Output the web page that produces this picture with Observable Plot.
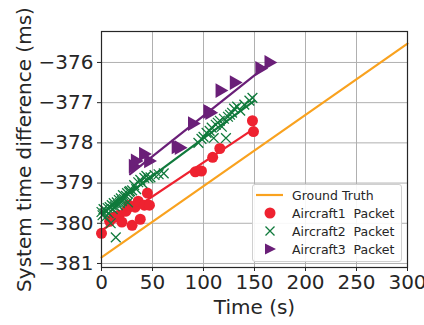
<!DOCTYPE html>
<html>
<head>
<meta charset="utf-8">
<script src="https://cdn.jsdelivr.net/npm/d3@7"></script>
<script src="https://cdn.jsdelivr.net/npm/@observablehq/plot@0.6"></script>
<style>
  body { margin: 0; background: #fff; font-family: "DejaVu Sans", sans-serif; }
  #wrap { position: relative; width: 424px; height: 325px; }
  #legend { position: absolute; left: 252px; top: 184px; width: 150px; height: 78px;
    background: rgba(255,255,255,0.9); border: 1px solid #d0d0d0; border-radius: 3px; box-sizing: border-box;
    font-size: 12.5px; color: #262626; }
  .row { position: absolute; left: 0; height: 18px; display: flex; align-items: center; white-space: pre; }
  .row svg { margin-left: 3px; margin-right: 9px; }
</style>
</head>
<body>
<div id="wrap"></div>
<script>
// Ground truth line endpoints
const gtT = [0, 300];
const gtV = [-380.85, -375.53];

// Fitted line endpoints per aircraft
const fit1T = [0, 150];   const fit1V = [-380.18, -377.64];
const fit2T = [0, 150];   const fit2V = [-379.76, -376.95];
const fit3T = [28, 166];  const fit3V = [-378.78, -376.0];

// Aircraft1 packets
const a1T = [0, 8, 12, 17, 20, 24, 27, 30, 33, 36, 38, 42, 45, 47, 92, 98, 109, 116, 148, 149];
const a1V = [-380.25, -379.95, -379.85, -379.8, -379.97, -379.7, -379.55, -380.05, -379.6, -379.45, -379.9, -379.55, -379.25, -379.55, -378.72, -378.7, -378.36, -378.14, -377.45, -377.72];

// Aircraft2 packets
const a2T = [0, 1, 2, 3, 4, 5, 6, 7, 8, 9, 10, 11, 12, 13, 14, 15, 16, 17, 18, 19, 20, 21, 22, 24, 25, 26, 27, 28, 30, 32, 34, 36, 38, 40, 42, 44, 46, 48, 52, 56, 61,
  95, 98, 100, 103, 106, 108, 110, 112, 114, 116, 118, 120, 122, 124, 126, 128, 130, 133, 136, 140, 145, 148];
const a2V = [-379.72, -379.8, -379.65, -379.75, -379.85, -379.7, -379.62, -379.75, -379.6, -380.0, -379.55, -379.65, -379.5, -379.58, -380.35, -379.48, -379.55, -379.42, -379.5, -379.38, -379.45, -379.3, -379.4, -379.32, -379.25, -379.48, -379.22, -379.2, -379.18, -379.05, -379.15, -378.98, -378.92, -379.0, -378.87, -378.82, -378.88, -378.86, -378.8, -378.78, -378.76,
  -378.0, -377.9, -377.85, -377.75, -377.7, -377.62, -377.88, -377.55, -377.5, -377.45, -377.6, -377.4, -377.88, -377.35, -377.3, -377.25, -377.15, -377.1, -377.2, -377.05, -376.95, -376.88];

// Aircraft3 packets
const a3T = [31, 33, 41, 46, 73, 76, 89, 104, 106, 116, 130, 155, 164];
const a3V = [-378.58, -378.45, -378.28, -378.45, -378.1, -378.12, -377.52, -377.22, -377.25, -376.7, -376.5, -376.15, -376.0];

const xTicks = [0, 50, 100, 150, 200, 250, 300];
const yTicks = [-381, -380, -379, -378, -377, -376];
const xLabel = "Time (s)";
const yLabel = "System time difference (ms)";

const cGT = "#f9a21f", c1 = "#ee2230", c2 = "#107a3c", c3 = "#6a1f78";

const zip = (T, V) => T.map((t, i) => ({t, v: V[i]}));

const chart = Plot.plot({
  width: 424, height: 325,
  marginLeft: 101, marginRight: 17, marginTop: 31, marginBottom: 58,
  style: {fontFamily: "DejaVu Sans, sans-serif", fontSize: "20px", color: "#262626", background: "white"},
  x: {domain: [0, 300]},
  y: {domain: [-381.1, -375.23]},
  marks: [
    Plot.gridX(xTicks, {stroke: "#b0b0b0", strokeOpacity: 1, strokeWidth: 1}),
    Plot.gridY(yTicks, {stroke: "#b0b0b0", strokeOpacity: 1, strokeWidth: 1}),
    Plot.line(zip(gtT, gtV), {x: "t", y: "v", stroke: cGT, strokeWidth: 2.2}),
    Plot.line(zip(fit1T, fit1V), {x: "t", y: "v", stroke: c1, strokeWidth: 2.2}),
    Plot.line(zip(fit2T, fit2V), {x: "t", y: "v", stroke: c2, strokeWidth: 2.2}),
    Plot.line(zip(fit3T, fit3V), {x: "t", y: "v", stroke: c3, strokeWidth: 2.2}),
    Plot.dot(zip(a1T, a1V), {x: "t", y: "v", r: 5.5, fill: c1, stroke: "none"}),
    Plot.dot(zip(a2T, a2V), {x: "t", y: "v", symbol: "times", r: 4.5, stroke: c2, strokeWidth: 1.3}),
    Plot.dot(zip(a3T, a3V), {x: "t", y: "v", symbol: "triangle", r: 5.5, fill: c3, stroke: "none", rotate: 90}),
    Plot.frame({stroke: "#262626", strokeWidth: 1.2}),
    Plot.axisX(xTicks, {tickSize: 4, tickPadding: 3, label: null, fontSize: 20}),
    Plot.axisY(yTicks, {tickSize: 4, tickPadding: 4, label: null, fontSize: 20, tickFormat: d => "\u2212" + Math.abs(d)}),
    Plot.text([xLabel], {frameAnchor: "bottom", lineAnchor: "middle", textAnchor: "middle", dy: 40, fontSize: 20, text: d => d}),
    Plot.text([yLabel], {frameAnchor: "left", lineAnchor: "middle", textAnchor: "middle", rotate: -90, dx: -77, fontSize: 20, text: d => d})
  ]
});
document.getElementById("wrap").appendChild(chart);

const legend = document.createElement("div");
legend.id = "legend";
const items = [
  {label: "Ground Truth", sym: `<line x1="0" y1="7" x2="27" y2="7" stroke="${cGT}" stroke-width="2.2"/>`},
  {label: "Aircraft1  Packet", sym: `<circle cx="14" cy="7" r="5.5" fill="${c1}"/>`},
  {label: "Aircraft2  Packet", sym: `<path d="M9.5,2.5L18.5,11.5M18.5,2.5L9.5,11.5" stroke="${c2}" stroke-width="1.3"/>`},
  {label: "Aircraft3  Packet", sym: `<path d="M9,1.5L20,7L9,12.5Z" fill="${c3}"/>`}
];
items.forEach((it, i) => {
  const row = document.createElement("div");
  row.className = "row";
  row.style.top = (1 + i * 18) + "px";
  row.innerHTML = `<svg width="27" height="14">${it.sym}</svg><span>${it.label}</span>`;
  legend.appendChild(row);
});
document.getElementById("wrap").appendChild(legend);
</script>
</body>
</html>
